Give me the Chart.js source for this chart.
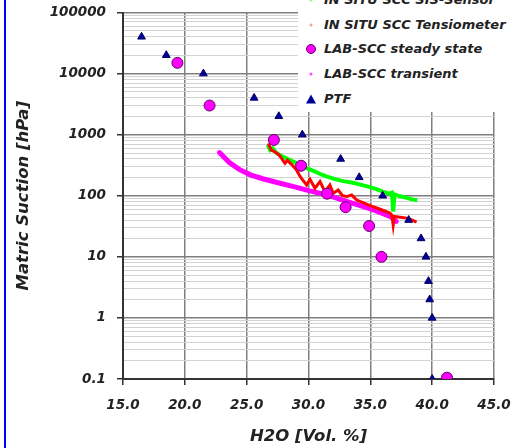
<!DOCTYPE html>
<html lang="en">
<head>
    <meta charset="UTF-8">
    <title>Matric Suction vs H2O</title>
    <script src="https://cdn.jsdelivr.net/npm/chart.js"></script>
    <style>
        body {
            margin: 0;
            background: #fff;
        }

        .wrap {
            position: relative;
            width: 512px;
            height: 448px;
            overflow: hidden;
        }

        .frame-left {
            position: absolute;
            left: 4px;
            top: 0;
            width: 2px;
            height: 448px;
            background: #0000ff;
        }

        .legend {
            position: absolute;
            left: 298px;
            top: 0;
            width: 214px;
            height: 112px;
            background: #fff;
            overflow: hidden;
            font-family: 'DejaVu Sans', sans-serif;
            font-weight: bold;
            font-style: italic;
            font-size: 13px;
            color: #222;
        }

        .legend .item {
            position: absolute;
            left: 0;
            height: 20px;
            line-height: 20px;
            white-space: nowrap;
        }

        .legend .mark {
            position: absolute;
            left: 13px;
            top: 10px;
            transform: translate(-50%, -50%);
        }

        .legend .text {
            position: absolute;
            left: 26px;
            top: 0;
        }
    </style>
</head>
<body>
<div class="wrap">
    <canvas id="chart"></canvas>
    <div class="frame-left"></div>
    <div class="legend" id="legend"></div>
</div>

<script>
// series names
const seriesNames = ['IN SITU SCC SIS-Sensor', 'IN SITU SCC Tensiometer', 'LAB-SCC steady state', 'LAB-SCC transient', 'PTF'];

// axis ticks
const xTickValues = [15, 20, 25, 30, 35, 40, 45];
const xTickLabels = ['15.0', '20.0', '25.0', '30.0', '35.0', '40.0', '45.0'];
const yTickValues = [0.1, 1, 10, 100, 1000, 10000, 100000];
const yTickLabels = ['0.1', '1', '10', '100', '1000', '10000', '100000'];

// IN SITU SCC SIS-Sensor (green)
const sisX = [26.7, 26.9, 27.1, 27.4, 27.7, 28.2, 28.8, 29.3, 29.9, 30.5, 31.0, 31.5, 32.2, 32.9, 33.5, 34.2, 34.9, 35.5, 36.0, 36.5, 36.75, 36.85, 36.95, 37.4, 37.8, 38.3, 38.8];
const sisY = [680, 560, 600, 500, 460, 410, 360, 320, 280, 250, 225, 205, 185, 172, 165, 152, 140, 128, 117, 108, 112, 55, 105, 98, 94, 88, 84];

// IN SITU SCC Tensiometer (red)
const tensX = [26.75, 27.0, 27.3, 27.6, 27.85, 28.1, 28.3, 28.6, 29.0, 29.3, 29.45, 29.85, 30.12, 30.52, 30.93, 31.33, 31.73, 32.0, 32.4, 32.75, 33.08, 33.49, 33.9, 34.5, 35.23, 35.9, 36.58, 36.75, 36.85, 36.95, 37.26, 37.94, 38.4, 38.74];
const tensY = [720, 560, 520, 470, 400, 340, 380, 330, 270, 210, 190, 150, 186, 133, 170, 117, 150, 110, 124, 100, 97, 103, 85, 76, 66, 59, 52, 48, 33, 46, 45, 43, 40, 37];

// LAB-SCC steady state (magenta circles)
const steadyX = [19.4, 22.0, 27.2, 29.4, 31.5, 33.0, 34.9, 35.9, 41.2];
const steadyY = [15000, 3000, 820, 310, 108, 65, 32, 10, 0.105];

// LAB-SCC transient (magenta line)
const transX = [22.8, 23.6, 24.4, 25.3, 26.3, 27.7, 28.8, 30.1, 31.5, 33.0, 34.0, 35.2, 36.6, 37.1];
const transY = [510, 350, 270, 220, 190, 160, 141, 120, 103, 82, 71, 59, 46, 38];

// PTF (blue triangles)
const ptfX = [16.5, 18.5, 21.5, 25.6, 27.6, 29.5, 32.6, 34.1, 36.0, 38.1, 39.1, 39.5, 39.7, 39.8, 40.0, 40.0];
const ptfY = [40000, 20000, 10000, 4000, 2000, 1000, 400, 200, 100, 40, 20, 10, 4, 2, 1, 0.1];

const pts = (xs, ys) => xs.map((x, i) => ({x: x, y: ys[i]}));

const font = (size) => ({family: "'DejaVu Sans', sans-serif", size: size, style: 'italic', weight: 'bold'});
const isDecade = (v) => Math.abs(Math.log10(v) - Math.round(Math.log10(v))) < 1e-9;

// legend (html, white box over the plot)
const legendMarks = [
    '<span style="display:block;width:3px;height:3px;background:#88ff88;border-radius:50%"></span>',
    '<span style="display:block;width:3px;height:3px;background:#ff9a9a;border-radius:50%"></span>',
    '<span style="display:block;width:10px;height:10px;background:#ff00ff;border:1px solid #660066;border-radius:50%;box-sizing:border-box"></span>',
    '<span style="display:block;width:3px;height:3px;background:#ff44ff;border-radius:50%"></span>',
    '<span style="display:block;width:0;height:0;border-left:5px solid transparent;border-right:5px solid transparent;border-bottom:9px solid #000099"></span>'
];
const legendEl = document.getElementById('legend');
seriesNames.forEach((name, i) => {
    const item = document.createElement('div');
    item.className = 'item';
    item.style.top = (-10 + i * 24.7) + 'px';
    item.innerHTML = '<span class="mark">' + legendMarks[i] + '</span><span class="text"></span>';
    item.querySelector('.text').textContent = name;
    legendEl.appendChild(item);
});

new Chart(document.getElementById('chart'), {
    type: 'scatter',
    data: {
        datasets: [{
            label: seriesNames[4],
            data: pts(ptfX, ptfY),
            pointStyle: 'triangle',
            pointRadius: 4.5,
            backgroundColor: '#000099',
            borderColor: '#000066',
            borderWidth: 1,
            order: 0
        }, {
            label: seriesNames[2],
            data: pts(steadyX, steadyY),
            pointStyle: 'circle',
            pointRadius: 5.5,
            backgroundColor: '#ff00ff',
            borderColor: '#660066',
            borderWidth: 1,
            order: 1
        }, {
            label: seriesNames[1],
            data: pts(tensX, tensY),
            showLine: true,
            pointRadius: 0,
            borderColor: '#ff0000',
            borderWidth: 3,
            order: 2
        }, {
            label: seriesNames[0],
            data: pts(sisX, sisY),
            showLine: true,
            pointRadius: 0,
            borderColor: '#00ff00',
            borderWidth: 4,
            order: 3
        }, {
            label: seriesNames[3],
            data: pts(transX, transY),
            showLine: true,
            pointRadius: 0,
            borderColor: '#ff00ff',
            borderWidth: 5,
            borderCapStyle: 'round',
            order: 4
        }]
    },
    options: {
        responsive: true,
        maintainAspectRatio: false,
        animation: false,
        layout: {padding: {top: 12.5, right: 18, left: 0, bottom: 0}},
        plugins: {
            legend: {display: false},
            tooltip: {enabled: false}
        },
        scales: {
            x: {
                type: 'linear',
                min: 15,
                max: 45,
                afterBuildTicks: (scale) => {
                    scale.ticks = xTickValues.map(v => ({value: v}));
                },
                afterFit: (scale) => {
                    scale.height = 69;
                    scale.paddingLeft = 0;
                    scale.paddingRight = 0;
                },
                ticks: {
                    autoSkip: false,
                    maxRotation: 0,
                    padding: 12,
                    color: '#222',
                    font: font(13.5),
                    callback: (v) => xTickLabels[xTickValues.indexOf(v)]
                },
                grid: {
                    color: '#7f7f7f',
                    lineWidth: 1.5,
                    tickLength: 6,
                    tickColor: '#333'
                },
                border: {color: '#333', width: 2},
                title: {
                    display: true,
                    text: 'H2O [Vol. %]',
                    color: '#222',
                    font: font(16.5),
                    padding: {top: 0, bottom: 1}
                }
            },
            y: {
                type: 'logarithmic',
                min: 0.1,
                max: 100000,
                afterBuildTicks: (scale) => {
                    const t = [];
                    yTickValues.forEach((d, i) => {
                        if (i === yTickValues.length - 1) { t.push({value: d}); return; }
                        for (let k = 1; k <= 9; k++) t.push({value: +(d * k).toPrecision(3)});
                    });
                    scale.ticks = t;
                },
                afterFit: (scale) => {
                    scale.width = 123;
                    scale.paddingTop = 0;
                    scale.paddingBottom = 0;
                },
                ticks: {
                    autoSkip: false,
                    padding: 11,
                    color: '#222',
                    font: font(13.5),
                    callback: (v) => {
                        const i = yTickValues.indexOf(v);
                        return i >= 0 ? yTickLabels[i] : '';
                    }
                },
                grid: {
                    color: (ctx) => ctx.tick && isDecade(ctx.tick.value) ? '#7f7f7f' : '#d2d2d2',
                    lineWidth: (ctx) => ctx.tick && isDecade(ctx.tick.value) ? 1.5 : 1,
                    tickLength: 6,
                    tickColor: (ctx) => ctx.tick && isDecade(ctx.tick.value) ? '#333' : 'rgba(0,0,0,0)'
                },
                border: {color: '#333', width: 2},
                title: {
                    display: true,
                    text: 'Matric Suction [hPa]',
                    color: '#222',
                    font: font(16.5),
                    padding: {top: 14, bottom: 0}
                }
            }
        }
    }
});
</script>
</body>
</html>
